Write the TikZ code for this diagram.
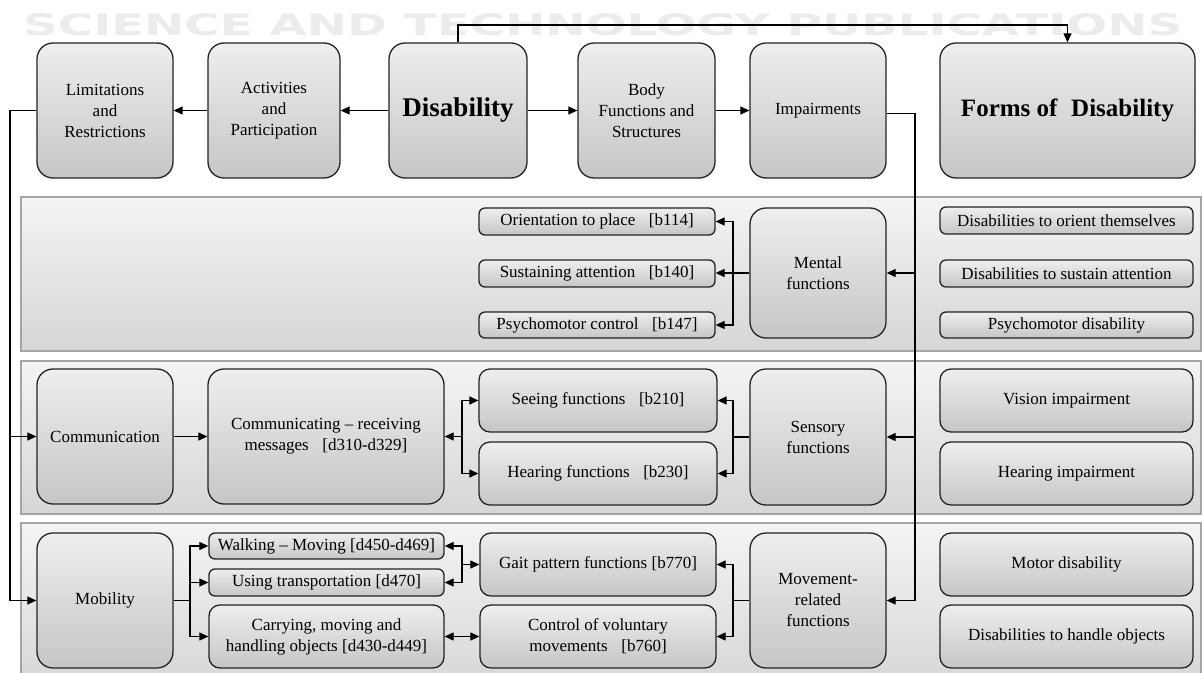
\documentclass[tikz,border=0pt]{standalone}
\usepackage{graphicx}
\usepackage{fontspec}
\setmainfont{Liberation Serif}
\newfontfamily\wmfont{DejaVu Sans}
\usetikzlibrary{arrows.meta}
\definecolor{boxtop}{RGB}{238,238,238}
\definecolor{boxbot}{RGB}{198,198,198}
\definecolor{pantop}{RGB}{244,244,244}
\definecolor{panbot}{RGB}{214,214,214}
\definecolor{panline}{RGB}{165,165,165}
\definecolor{edge}{RGB}{35,35,35}
\definecolor{wmgray}{RGB}{236,236,236}
\tikzset{
  base/.style={draw=edge, line width=1.3pt, top color=boxtop, bottom color=boxbot,
    inner sep=0pt, align=center, font=\fontsize{17}{21}\selectfont},
  bigbox/.style={base, rounded corners=16pt},
  midbox/.style={base, rounded corners=11pt},
  smallbox/.style={base, rounded corners=6pt},
  panel/.style={draw=panline, line width=1.5pt, top color=pantop, bottom color=panbot},
  conn/.style={line width=1.2pt, draw=black},
  arr/.style={conn, -{Triangle[length=9pt,width=8pt]}},
  darr/.style={conn, {Triangle[length=9pt,width=8pt]}-{Triangle[length=9pt,width=8pt]}},
}
\newcommand{\mkbox}[7]{\node[#1, minimum width={(#5-#3)*1pt}, minimum height={(#6-#4)*1pt}] (#2) at ({(#3+#5)/2},{(#4+#6)/2}) {#7};}
\begin{document}
\begin{tikzpicture}[x=1pt,y=-1pt]
\useasboundingbox (0,0) rectangle (1202,672);
\clip (0,0) rectangle (1202,672);
\fill[white] (0,0) rectangle (1202,672);
% watermark
\node[anchor=base west, inner sep=0pt, text=wmgray] (wm) at (23,35)
  {\resizebox{1159pt}{22pt}{\wmfont\bfseries SCIENCE AND TECHNOLOGY PUBLICATIONS}};
% panels
\path[panel] (21,197) rectangle (1201,351);
\path[panel] (21,361) rectangle (1201,514);
\path[panel] (21,523) rectangle (1201,690);
% top row
\mkbox{bigbox}{lim}{37}{43}{173}{178}{Limitations\\and\\Restrictions}
\mkbox{bigbox}{act}{208}{43}{340}{178}{Activities\\and\\Participation}
\mkbox{bigbox,font=\bfseries\fontsize{27}{30}\selectfont}{dis}{389}{43}{527}{178}{Disability}
\mkbox{bigbox}{body}{578}{43}{715}{178}{Body\\Functions and\\Structures}
\mkbox{bigbox}{imp}{750}{43}{886}{178}{Impairments}
\mkbox{bigbox,font=\bfseries\fontsize{25}{28}\selectfont}{forms}{940}{43}{1195}{178}{Forms of\hspace{0.3em} Disability}
% mental
\mkbox{smallbox}{ori}{479}{208}{715}{235}{Orientation to place\hspace{0.55em} [b114]}
\mkbox{smallbox}{sus}{479}{260}{715}{287}{Sustaining attention\hspace{0.55em} [b140]}
\mkbox{smallbox}{psy}{479}{312}{715}{338}{Psychomotor control\hspace{0.55em} [b147]}
\mkbox{bigbox}{ment}{750}{208}{886}{338}{Mental\\functions}
\mkbox{smallbox}{dori}{940}{207}{1193}{234}{Disabilities to orient themselves}
\mkbox{smallbox}{dsus}{940}{260}{1193}{287}{Disabilities to sustain attention}
\mkbox{smallbox}{dpsy}{940}{312}{1193}{338}{Psychomotor disability}
% sensory
\mkbox{bigbox}{comm}{37}{369}{173}{504}{Communication}
\mkbox{bigbox}{comg}{208}{369}{444}{504}{Communicating -- receiving\\messages\hspace{0.55em} [d310-d329]}
\mkbox{midbox}{see}{479}{369}{717}{432}{Seeing functions\hspace{0.55em} [b210]}
\mkbox{midbox}{hear}{479}{442}{717}{505}{Hearing functions\hspace{0.55em} [b230]}
\mkbox{bigbox}{sens}{750}{369}{886}{505}{Sensory\\functions}
\mkbox{midbox}{vis}{940}{369}{1193}{432}{Vision impairment}
\mkbox{midbox}{himp}{940}{442}{1193}{505}{Hearing impairment}
% mobility
\mkbox{bigbox}{mob}{37}{533}{173}{668}{Mobility}
\mkbox{smallbox}{walk}{209}{533}{444}{559}{Walking -- Moving [d450-d469]}
\mkbox{smallbox}{trans}{209}{569}{444}{596}{Using transportation [d470]}
\mkbox{midbox}{carry}{209}{605}{444}{668}{Carrying, moving and\\handling objects [d430-d449]}
\mkbox{midbox}{gait}{480}{533}{716}{596}{Gait pattern functions [b770]}
\mkbox{midbox}{ctrl}{480}{605}{716}{668}{Control of voluntary\\movements\hspace{0.55em} [b760]}
\mkbox{bigbox}{move}{750}{533}{886}{668}{Movement-\\related\\functions}
\mkbox{midbox}{motor}{940}{533}{1193}{596}{Motor disability}
\mkbox{midbox}{hobj}{940}{605}{1193}{668}{Disabilities to handle objects}
% coordinates for connector columns
\coordinate (lx) at (10,0);
\coordinate (ty) at (0,25);
\coordinate (rx) at (915,0);
\coordinate (mx) at (733,0);
\coordinate (jx) at (462,0);
\coordinate (bx) at (190,0);
% top row connectors
\draw[arr] (dis.west) -- (act.east);
\draw[arr] (act.west) -- (lim.east);
\draw[arr] (dis.east) -- (body.west);
\draw[arr] (body.east) -- (imp.west);
\draw[arr] (dis.north) -- (dis.north |- ty) -| (forms.north);
% left trunk
\draw[arr] (lim.west) -- (lim.west -| lx) -- (lx |- mob.west) -- (mob.west);
\draw[arr] (lx |- comm.west) -- (comm.west);
% right trunk
\draw[arr] ([yshift=-3pt]imp.east) -- ([yshift=-3pt]imp.east -| rx) -- (rx |- move.east) -- (move.east);
\draw[arr] (rx |- ment.east) -- (ment.east);
\draw[arr] (rx |- sens.east) -- (sens.east);
% mental branch
\draw[conn] (ment.west) -- (ment.west -| mx);
\draw[arr] (ment.west -| mx) |- (ori.east);
\draw[arr] (ment.west -| mx) |- (psy.east);
\draw[arr] (ment.west) -- (ment.west -| sus.east);
% sensory branch
\draw[conn] (sens.west) -- (sens.west -| mx);
\draw[arr] (sens.west -| mx) |- (see.east);
\draw[arr] (sens.west -| mx) |- (hear.east);
% communication
\draw[arr] (comm.east) -- (comg.west);
\draw[arr] (comg.east -| jx) -- (comg.east);
\draw[arr] (comg.east -| jx) |- (see.west);
\draw[arr] (comg.east -| jx) |- (hear.west);
% mobility branch
\draw[conn] (mob.east) -- (mob.east -| bx);
\draw[arr] (mob.east -| bx) |- (walk.west);
\draw[arr] (mob.east -| bx) |- (trans.west);
\draw[arr] (mob.east -| bx) |- (carry.west);
% gait junction
\draw[arr] (gait.west -| jx) -- (gait.west);
\draw[arr] (gait.west -| jx) |- (walk.east);
\draw[arr] (gait.west -| jx) |- (trans.east);
\draw[darr] (carry.east) -- (ctrl.west);
% movement branch
\draw[conn] (move.west) -- (move.west -| mx);
\draw[arr] (move.west -| mx) |- (gait.east);
\draw[arr] (move.west -| mx) |- (ctrl.east);
\end{tikzpicture}
\end{document}
